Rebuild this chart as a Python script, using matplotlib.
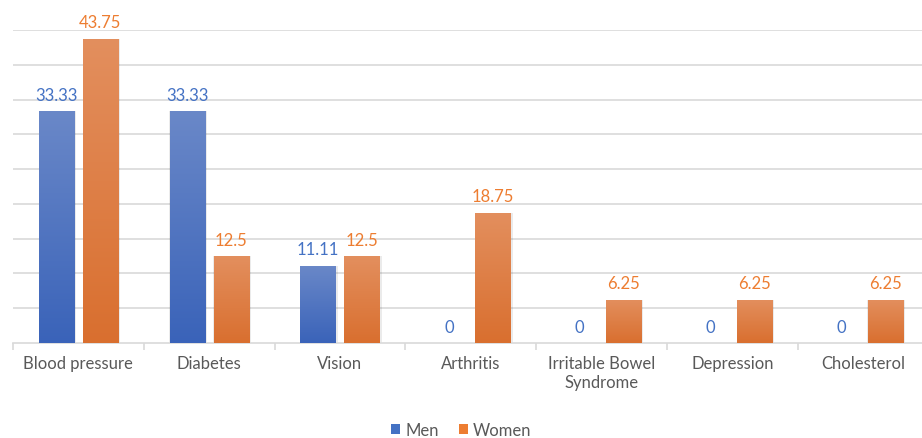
import matplotlib
matplotlib.use("Agg")
from matplotlib import pyplot as plt
import numpy as np

categories = ['Blood pressure', 'Diabetes', 'Vision', 'Arthritis',
              'Irritable Bowel\nSyndrome', 'Depression', 'Cholesterol']
men = [33.33, 33.33, 11.11, 0, 0, 0, 0]
women = [43.75, 12.5, 12.5, 18.75, 6.25, 6.25, 6.25]
men_labels = ['33.33', '33.33', '11.11', '0', '0', '0', '0']
women_labels = ['43.75', '12.5', '12.5', '18.75', '6.25', '6.25', '6.25']

plt.rcParams['font.family'] = ['Lato', 'DejaVu Sans']

blue, orange = '#4472C4', '#ED7D31'
blue_top, blue_bot = '#6a88c8', '#3a63b9'
or_top, or_bot = '#e38f5e', '#d96f2f'

fig = plt.figure(figsize=(9.22, 4.39), dpi=100)
ax = fig.add_axes([13/922, 95/439, 7*130.8/922, 313/439])

x = np.arange(len(categories))
w = 0.268
off = 0.168

def gradient_bars(bars, ctop, cbot):
    c1 = np.array(matplotlib.colors.to_rgb(ctop))
    c2 = np.array(matplotlib.colors.to_rgb(cbot))
    t = np.linspace(0, 1, 256)[:, None]
    img = (c1 * (1 - t) + c2 * t)[:, None, :]
    for b in bars:
        h = b.get_height()
        if h <= 0:
            continue
        x0 = b.get_x()
        # soft shadow
        ax.bar(x0 + b.get_width()/2 + 0.008, h, b.get_width() + 0.02, bottom=0,
               color='#000000', alpha=0.08, zorder=2, linewidth=0)
        im = ax.imshow(img, extent=[x0, x0 + b.get_width(), 0, h], aspect='auto',
                       zorder=3, origin='upper')
        im.set_clip_path(b)

mb = ax.bar(x - off, men, w, color=blue, zorder=3, label='Men', linewidth=0)
wb = ax.bar(x + off, women, w, color=orange, zorder=3, label='Women', linewidth=0)
gradient_bars(mb, blue_top, blue_bot)
gradient_bars(wb, or_top, or_bot)

for xi, v, s in zip(x, men, men_labels):
    ax.annotate(s, (xi - off, v), xytext=(0, 6), textcoords='offset points',
                ha='center', va='bottom', color=blue, fontsize=12)
for xi, v, s in zip(x, women, women_labels):
    ax.annotate(s, (xi + off, v), xytext=(0, 6), textcoords='offset points',
                ha='center', va='bottom', color=orange, fontsize=12)

ax.set_xlim(-0.5, len(categories) - 0.5)
ax.set_ylim(0, 45)
ax.set_yticks(np.arange(5, 46, 5))
ax.yaxis.grid(True, color='#d9d9d9', linewidth=1.2, zorder=0)
ax.set_axisbelow(True)
ax.tick_params(axis='y', left=False, labelleft=False)
for s in ['left', 'right', 'top']:
    ax.spines[s].set_visible(False)
ax.spines['bottom'].set_color('#d9d9d9')
ax.spines['bottom'].set_linewidth(1.2)

ax.set_xticks(x)
ax.set_xticklabels(categories, color='#595959', fontsize=12)
ax.tick_params(axis='x', length=0, pad=9)
ax.set_xticks(np.arange(-0.5, len(categories), 1), minor=True)
ax.tick_params(axis='x', which='minor', length=5, color='#d9d9d9', width=1.2)

leg = fig.legend(handles=[mb, wb], labels=['Men', 'Women'], loc='center',
                 bbox_to_anchor=(0.5, 8/439), ncol=2, frameon=False,
                 fontsize=12, handlelength=0.55, handleheight=0.55,
                 handletextpad=0.3, columnspacing=1.2, labelcolor='#595959')

fig.savefig('out.png', dpi=100)
